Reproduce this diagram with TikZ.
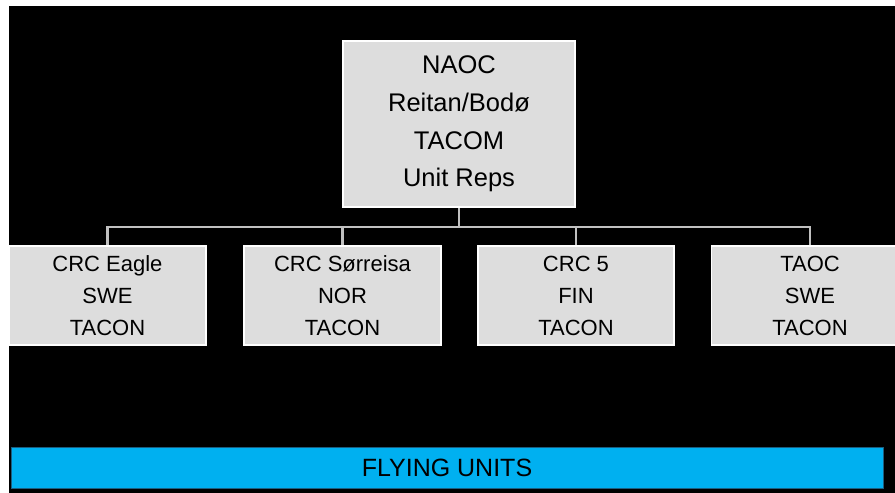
\documentclass[tikz,border=0pt]{standalone}
\usepackage{fontspec}
\setmainfont{Liberation Sans}
\definecolor{boxfill}{HTML}{DDDDDD}
\definecolor{linegray}{HTML}{C0C0C0}
\definecolor{skyblue}{HTML}{00B0F0}
\definecolor{bluedge}{HTML}{1B5E80}
\begin{document}
\begin{tikzpicture}[x=1pt,y=-1pt,
  unitbox/.style={draw=white,line width=1.8pt,fill=boxfill,rectangle,
    inner sep=0pt,align=center,text=black},
  topbox/.style={unitbox,minimum width=232pt,minimum height=166pt,
    font=\fontsize{25.5}{37.7}\selectfont},
  subbox/.style={unitbox,minimum width=197pt,minimum height=99pt,
    font=\fontsize{22}{32}\selectfont},
  conn/.style={draw=linegray,line width=2.5pt},
  bar/.style={draw=bluedge,line width=0.8pt,fill=skyblue,rectangle,
    inner sep=0pt,minimum width=872pt,minimum height=41pt,
    font=\fontsize{25}{30}\selectfont,text=black}]
  \useasboundingbox (0,0) rectangle (895,493);
  \clip (0,0) rectangle (895,493);
  % background panel
  \fill[white] (0,0) rectangle (895,493);
  \fill[black] (9,6) rectangle (900,500);

  % connector bus
  \coordinate (bus) at (0,227);

  % command structure
  \node[topbox] (naoc) at (459,124) {NAOC\\Reitan/Bodø\\TACOM\\Unit Reps};
  \node[subbox] (eagle) at (107.5,295.5) {CRC Eagle\\SWE\\TACON};
  \node[subbox] (sorr) at (342.5,295.5) {CRC Sørreisa\\NOR\\TACON};
  \node[subbox,minimum width=196pt] (crc5) at (576,295.5) {CRC 5\\FIN\\TACON};
  \node[subbox] (taoc) at (810,295.5) {TAOC\\SWE\\TACON};

  \draw[conn] (naoc.south) -- (naoc.south |- bus);
  \draw[conn] (naoc.south |- bus) -| (eagle.north);
  \draw[conn] (naoc.south |- bus) -| (sorr.north);
  \draw[conn] (naoc.south |- bus) -| (crc5.north);
  \draw[conn] (naoc.south |- bus) -| (taoc.north);

  % flying units bar
  \node[bar] (fly) at (447,467.5) {FLYING UNITS};
\end{tikzpicture}
\end{document}
